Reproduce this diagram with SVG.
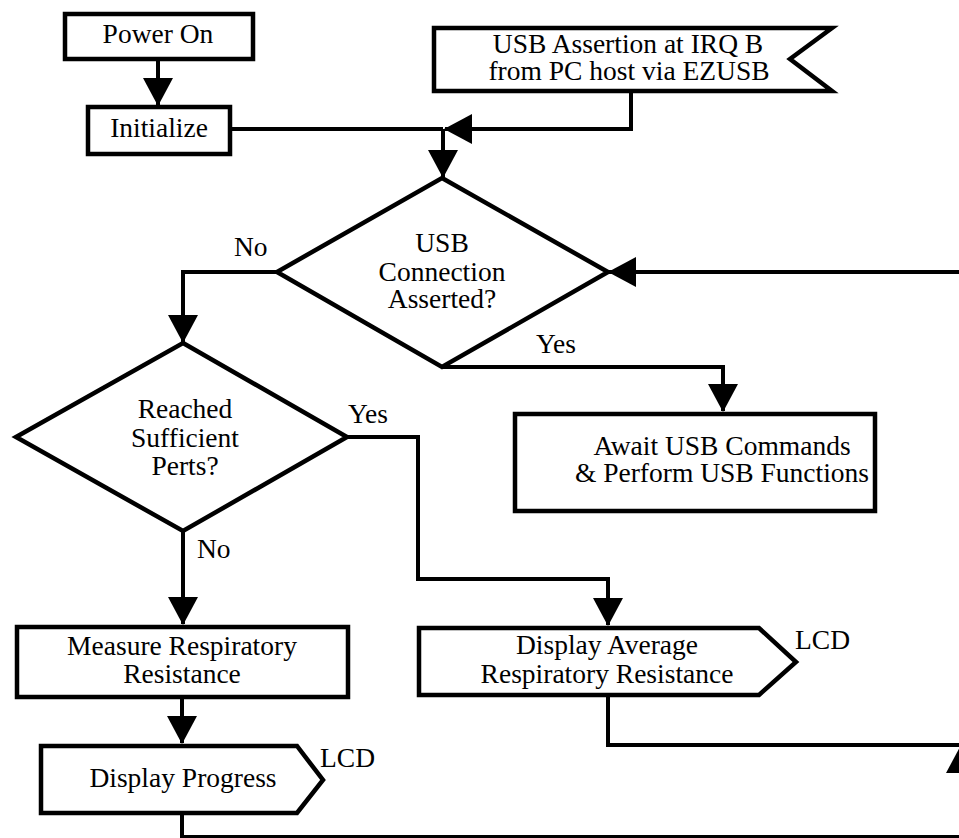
<svg xmlns="http://www.w3.org/2000/svg" width="959" height="838" viewBox="0 0 959 838">
  <style>
    .shape { fill: #fff; stroke: #000; stroke-width: 4.5; stroke-linejoin: miter; }
    .wire { fill: none; stroke: #000; stroke-width: 4; stroke-linejoin: miter; }
    .arrow { marker-end: url(#head); }
  </style>
  <defs>
    <marker id="head" markerUnits="userSpaceOnUse" markerWidth="28" markerHeight="30" viewBox="0 0 28 30" refX="27" refY="15" orient="auto">
      <path d="M0,0 L28,15 L0,30 Z" fill="#000"/>
    </marker>
  </defs>

  <rect width="959" height="838" fill="#fff"/>

  <!-- connectors -->
  <g id="connectors">
    <path class="wire arrow" d="M158,60 V105"/>
    <path class="wire" d="M232,129 H443"/>
    <path class="wire arrow" d="M631,92 V129 H445"/>
    <path class="wire arrow" d="M443,129 V177"/>
    <path class="wire arrow" d="M277,272 H183 V342"/>
    <path class="wire arrow" d="M442,367 H723 V411"/>
    <path class="wire arrow" d="M347,437 H418 V579 H608 V625"/>
    <path class="wire arrow" d="M183,531 V624"/>
    <path class="wire arrow" d="M182,699 V743"/>
    <path class="wire arrow" d="M608,697 V745 H962 V272 H609"/>
    <path class="wire arrow" d="M182,815 V837 H961 V746"/>
  </g>

  <!-- nodes; all labels share one serif face -->
  <g font-family="Times New Roman, Liberation Serif, Tinos, DejaVu Serif, serif" font-size="27.5" fill="#000">
    <g id="power-on">
      <rect class="shape" x="65" y="14" width="188" height="45"/>
      <text text-anchor="middle" x="158" y="43">Power On</text>
    </g>

    <g id="initialize">
      <rect class="shape" x="88" y="107" width="142" height="47"/>
      <text text-anchor="middle" x="159" y="137">Initialize</text>
    </g>

    <g id="usb-assertion">
      <polygon class="shape" points="434,28 832,28 790,59 832,91 434,91"/>
      <text text-anchor="middle" x="628" y="53">USB Assertion at IRQ B</text>
      <text text-anchor="middle" x="629" y="80">from PC host via EZUSB</text>
    </g>

    <g id="usb-connected">
      <polygon class="shape" points="442,178 608,272 442,367 277,272"/>
      <text text-anchor="middle" x="442" y="252">USB</text>
      <text text-anchor="middle" x="442" y="281">Connection</text>
      <text text-anchor="middle" x="442" y="308">Asserted?</text>
      <text x="234" y="256">No</text>
      <text x="536" y="353">Yes</text>
    </g>

    <g id="await-usb">
      <rect class="shape" x="515" y="414" width="360" height="97"/>
      <text text-anchor="middle" x="722" y="455">Await USB Commands</text>
      <text text-anchor="middle" x="722" y="482">&amp; Perform USB Functions</text>
    </g>

    <g id="sufficient-perts">
      <polygon class="shape" points="183,343 347,437 183,531 16,437"/>
      <text text-anchor="middle" x="185" y="418">Reached</text>
      <text text-anchor="middle" x="185" y="447">Sufficient</text>
      <text text-anchor="middle" x="185" y="475">Perts?</text>
      <text x="348" y="423">Yes</text>
      <text x="197" y="558">No</text>
    </g>

    <g id="measure">
      <rect class="shape" x="17" y="627" width="331" height="70"/>
      <text text-anchor="middle" x="182" y="655">Measure Respiratory</text>
      <text text-anchor="middle" x="182" y="683">Resistance</text>
    </g>

    <g id="display-progress">
      <polygon class="shape" points="41,746 297,746 323,780 297,813 41,813"/>
      <text text-anchor="middle" x="183" y="787">Display Progress</text>
      <text x="320" y="767">LCD</text>
    </g>

    <g id="display-average">
      <polygon class="shape" points="419,628 759,628 796,662 759,695 419,695"/>
      <text text-anchor="middle" x="607" y="654">Display Average</text>
      <text text-anchor="middle" x="607" y="683">Respiratory Resistance</text>
      <text x="795" y="649">LCD</text>
    </g>
  </g>
</svg>
